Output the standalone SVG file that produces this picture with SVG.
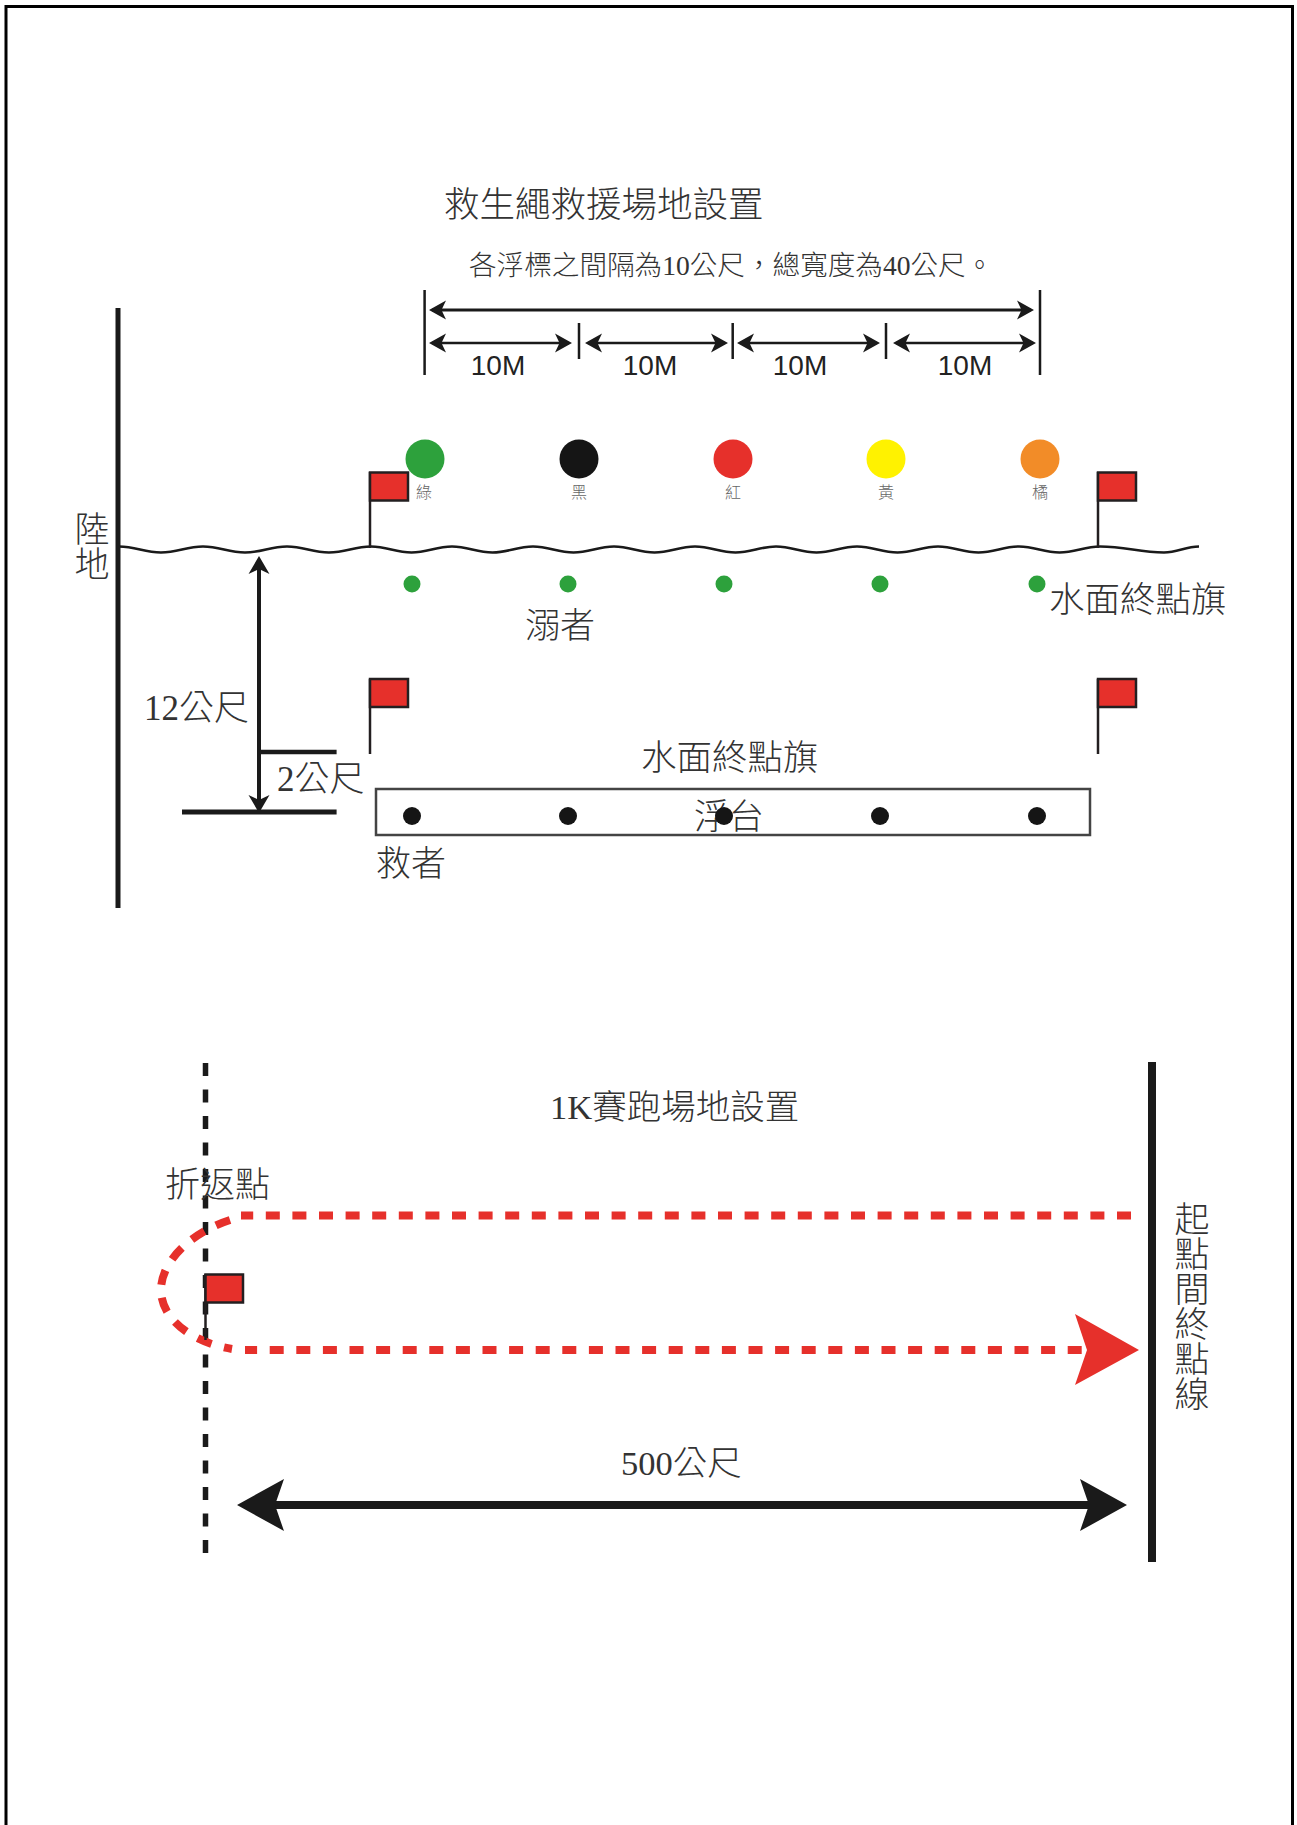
<svg xmlns="http://www.w3.org/2000/svg" width="1297" height="1825" viewBox="0 0 1297 1825">
<style>
text{font-family:"Liberation Serif","Noto Sans CJK TC",serif;font-weight:300;fill:#333}
.t{font-size:35px}
.v{font-size:35px;writing-mode:vertical-rl}
.c{font-size:16px;fill:#666;text-anchor:middle}
.m{font-family:"Liberation Sans","Noto Sans CJK TC",sans-serif;font-size:28px;fill:#222;text-anchor:middle}
.k{fill:none;stroke:#1a1a1a}
.r{fill:none;stroke:#e6302b;stroke-width:8}
.flag{fill:#e6302b;stroke:#231f20;stroke-width:2.5}
.pole{fill:none;stroke:#231f20;stroke-width:2.5}
.g{fill:#2da13c}
.b{fill:#151515}
</style>
<defs>
<marker id="sm" markerUnits="userSpaceOnUse" viewBox="0 -10 17 20" markerWidth="17" markerHeight="20" refX="14" refY="0" orient="auto-start-reverse"><path d="M0-9.500 17 0 0 9.500 4.500 0z" fill="#1a1a1a"/></marker>
<marker id="md" markerUnits="userSpaceOnUse" viewBox="0 -11 18 22" markerWidth="18" markerHeight="22" refX="14" refY="0" orient="auto-start-reverse"><path d="M0-10.500 18 0 0 10.500 5 0z" fill="#1a1a1a"/></marker>
<marker id="bg" markerUnits="userSpaceOnUse" viewBox="0 -27 47 54" markerWidth="47" markerHeight="54" refX="35" refY="0" orient="auto-start-reverse"><path d="M0-26 47 0 0 26 9 0z" fill="#1a1a1a"/></marker>
</defs>
<rect width="1297" height="1825" fill="#fff"/>
<path id="border" d="M6 1825V6.500H1292.500V1825" fill="none" stroke="#000" stroke-width="3"/>

<g id="rope-title"><text x="444" y="217" style="font-size:35.500px">救生繩救援場地設置</text>
<text x="469" y="275" style="font-size:27.600px">各浮標之間隔為10公尺，總寬度為40公尺。</text></g>

<g id="connectors">
<path class="k" stroke-width="2.500" d="M424.600 290V375M1040 290V375M579 323V359M732.700 323V359M886 323V359"/>
<path class="k" stroke-width="3" d="M432 310H1031" marker-start="url(#sm)" marker-end="url(#sm)"/>
<g stroke-width="2.500" class="k">
<path d="M432 343H569" marker-start="url(#sm)" marker-end="url(#sm)"/>
<path d="M588 343H725" marker-start="url(#sm)" marker-end="url(#sm)"/>
<path d="M740 343H877" marker-start="url(#sm)" marker-end="url(#sm)"/>
<path d="M896 343H1033" marker-start="url(#sm)" marker-end="url(#sm)"/>
</g>
<path id="land" class="k" stroke-width="5" d="M118 308V908"/>
<path id="water" class="k" stroke-width="2.500" d="M119 546.500c17 0 25 6 42 6s25-6 42-6c17 0 25 6 42 6s25-6 42-6c17 0 25 6 42 6s25-6 42-6c16 0 24.500 6 40.500 6s24.500-6 40.500-6c16 0 24.500 6 40.500 6s24.500-6 40.500-6c16 0 24.500 6 40.500 6s24.500-6 40.500-6c16 0 24.500 6 40.500 6s24.500-6 40.500-6c16 0 24.500 6 40.500 6s24.500-6 40.500-6c16 0 24.500 6 40.500 6s24.500-6 40.500-6c16 0 24.500 6 40.500 6s24.500-6 40.500-6c16 0 24.500 6 40.500 6s24.500-6 40.500-6c16 0 24.500 6 40.500 6s24.500-6 40.500-6c26 0 39 6 64 6c14 0 21-6 35-6"/>
<path class="k" stroke-width="4" d="M259 560V809" marker-start="url(#md)" marker-end="url(#md)"/>
<path class="k" stroke-width="4.500" d="M259 752H336.600"/>
<path class="k" stroke-width="5" d="M182 812H336.600"/>
<path id="turn-line" class="k" stroke-width="5.500" stroke-dasharray="13 13.500" d="M205.500 1063V1553"/>
<path id="finish-line" class="k" stroke-width="8" d="M1152 1062V1562"/>
<path class="r" stroke-dasharray="14 12.600" d="M1131 1215.500H241"/>
<path class="r" stroke-dasharray="15 13" d="M230 1220C190 1233 161 1262 161 1290S190 1342 232 1349"/>
<path class="r" stroke-dasharray="14 12.600" d="M1081.700 1350H245"/>
<path d="M1075 1314 1139 1350 1075 1385 1087 1350z" fill="#e6302b"/>
<path class="k" stroke-width="8" d="M249 1505H1115" marker-start="url(#bg)" marker-end="url(#bg)"/>
</g>

<g id="dim-labels"><text class="m" x="498" y="375">10M</text><text class="m" x="650" y="375">10M</text><text class="m" x="800" y="375">10M</text><text class="m" x="965" y="375">10M</text></g>

<g id="buoys">
<g id="buoy-green"><circle class="g" cx="425" cy="459" r="19.500"/><text class="c" x="424" y="498">綠</text></g>
<g id="buoy-black"><circle class="b" cx="579" cy="459" r="19.500"/><text class="c" x="579" y="498">黑</text></g>
<g id="buoy-red"><circle cx="733" cy="459" r="19.500" fill="#e6302b"/><text class="c" x="733" y="498">紅</text></g>
<g id="buoy-yellow"><circle cx="886" cy="459" r="19.500" fill="#fff200"/><text class="c" x="886" y="498">黃</text></g>
<g id="buoy-orange"><circle cx="1040" cy="459" r="19.500" fill="#f28c28"/><text class="c" x="1040" y="498">橘</text></g>
</g>

<g id="flag-1"><path class="pole" d="M370 472V548"/><rect class="flag" x="370" y="472.500" width="38" height="28"/></g>
<g id="flag-2"><path class="pole" d="M1098 472V548"/><rect class="flag" x="1098" y="472.500" width="38" height="28"/></g>
<g id="flag-3"><path class="pole" d="M370 679V754"/><rect class="flag" x="370" y="679" width="38" height="28"/></g>
<g id="flag-4"><path class="pole" d="M1098 679V754"/><rect class="flag" x="1098" y="679" width="38" height="28"/></g>
<g id="flag-5"><path class="pole" d="M205.500 1274V1340"/><rect class="flag" x="205.500" y="1274.500" width="37.500" height="28"/></g>

<g id="platform"><rect x="376" y="789" width="714" height="46" fill="#fff" stroke="#444" stroke-width="2.500"/><text class="t" x="694" y="829">浮台</text></g>

<g id="swimmers"><circle class="g" cx="412" cy="584" r="8.500"/><circle class="g" cx="568" cy="584" r="8.500"/><circle class="g" cx="724" cy="584" r="8.500"/><circle class="g" cx="880" cy="584" r="8.500"/><circle class="g" cx="1037" cy="584" r="8.500"/></g>
<g id="rescuers"><circle class="b" cx="412" cy="816" r="9"/><circle class="b" cx="568" cy="816" r="9"/><circle class="b" cx="724" cy="816" r="9"/><circle class="b" cx="880" cy="816" r="9"/><circle class="b" cx="1037" cy="816" r="9"/></g>

<g id="labels">
<text class="v" x="88" y="511">陸地</text>
<text class="t" x="144" y="720">12公尺</text>
<text class="t" x="277" y="791">2公尺</text>
<text class="t" x="525" y="638">溺者</text>
<text class="t" x="376" y="876">救者</text>
<text class="t" x="1049" y="612" style="font-size:35.500px">水面終點旗</text>
<text class="t" x="641" y="770" style="font-size:35.500px">水面終點旗</text>
<text class="t" x="165" y="1197">折返點</text>
<text class="t" x="550" y="1119" style="font-size:34.500px">1K賽跑場地設置</text>
<text class="t" x="621" y="1475" style="font-size:34.500px">500公尺</text>
<text class="v" x="1188" y="1201">起點間終點線</text>
</g>
</svg>
